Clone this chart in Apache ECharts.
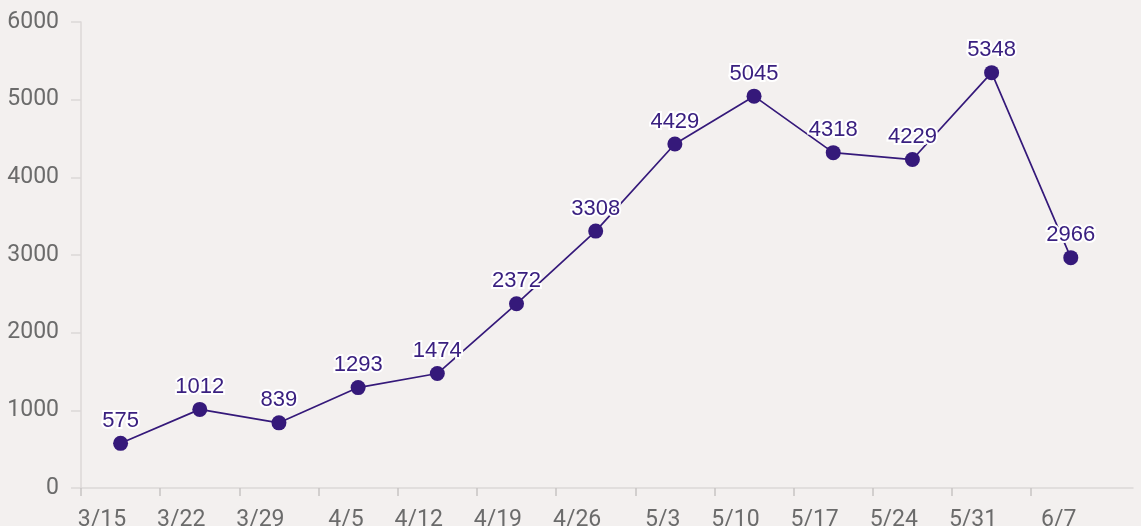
<!DOCTYPE html>
<html>
<head>
<meta charset="utf-8">
<script src="https://cdn.jsdelivr.net/npm/echarts@6/dist/echarts.min.js"></script>
<style>
  html, body { margin: 0; padding: 0; background: #f3f0ef; }
  #chart { width: 1141px; height: 526px; }
</style>
</head>
<body>
<div id="chart"></div>
<script>
// weekly buckets (week start dates) and counts
const weeks = ['3/15', '3/22', '3/29', '4/5', '4/12', '4/19', '4/26', '5/3', '5/10', '5/17', '5/24', '5/31', '6/7'];
const counts = [575, 1012, 839, 1293, 1474, 2372, 3308, 4429, 5045, 4318, 4229, 5348, 2966];
const yTicks = [0, 1000, 2000, 3000, 4000, 5000, 6000];

// x is measured in weeks from 3/15; points sit mid-week
const lineColor = '#35197a';
const axisGray = '#dcd8d7';

const chart = echarts.init(document.getElementById('chart'));
chart.setOption({
    backgroundColor: '#f3f0ef',
    animation: false,
    grid: { left: 81, right: 8, top: 22, bottom: 38, outerBoundsMode: 'none' },
    xAxis: {
        type: 'value',
        min: 0,
        max: 93 / 7, // axis runs a bit past the last week
        splitLine: { show: false },
        axisLine: { show: true, lineStyle: { color: axisGray, width: 1.5 } },
        axisTick: {
            show: true,
            length: 8,
            customValues: weeks.map((_, i) => i),
            lineStyle: { color: '#c8c4c3', width: 1.5 }
        },
        axisLabel: {
            customValues: weeks.map((_, i) => i + 0.57),
            formatter: (v) => weeks[Math.floor(v)],
            align: 'right',
            margin: 21,
            fontSize: 23,
            fontFamily: 'Roboto',
            color: '#6b6b6b',
            hideOverlap: false
        }
    },
    yAxis: {
        type: 'value',
        min: yTicks[0],
        max: yTicks[yTicks.length - 1],
        interval: 1000,
        splitLine: { show: false },
        axisLine: { show: true, lineStyle: { color: axisGray, width: 1.5 } },
        axisTick: { show: true, length: 10, lineStyle: { color: axisGray, width: 1.5 } },
        axisLabel: {
            margin: 22,
            fontSize: 23,
            fontFamily: 'Roboto',
            color: '#6b6b6b',
            formatter: (v) => String(v)
        }
    },
    series: [{
        type: 'line',
        data: counts.map((v, i) => [i + 0.5, v]),
        symbol: 'circle',
        symbolSize: 15,
        lineStyle: { color: lineColor, width: 1.7 },
        itemStyle: { color: lineColor },
        label: {
            show: true,
            position: 'top',
            distance: 4,
            formatter: (p) => p.value[1],
            fontSize: 22,
            fontFamily: 'Liberation Sans, Arial, sans-serif',
            color: '#3a2080',
            textBorderColor: '#ffffff',
            textBorderWidth: 4
        }
    }]
});
</script>
</body>
</html>
